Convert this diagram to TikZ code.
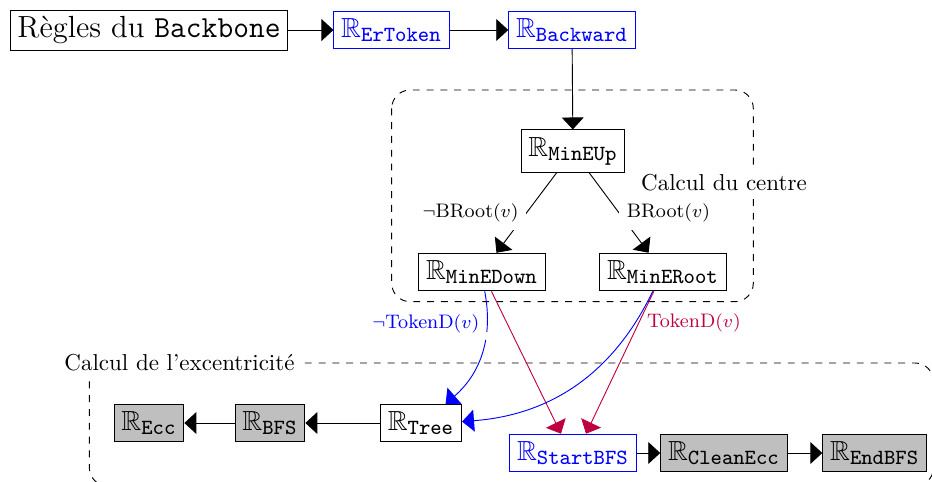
\documentclass[tikz,border=0pt]{standalone}
\usepackage{amssymb}
\usetikzlibrary{arrows.meta}
\newcommand{\RRsub}[1]{$\mathbb{R}_{\mbox{\fontsize{9.4}{11}\selectfont\ttfamily #1}}$}
\definecolor{crim}{rgb}{0.75,0,0.25}
\newdimen\px \px=0.4348pt
\begin{document}
\begin{tikzpicture}[x=0.4348pt,y=-0.4348pt,
  box/.style={draw, inner xsep=3.2pt, inner ysep=3.1pt, font=\fontsize{12}{14}\selectfont},
  bluebox/.style={box, draw=blue, text=blue},
  graybox/.style={box, fill=gray!50},
  arr/.style={-{Triangle[length=5.2pt,width=9.5pt]}},
  lab/.style={font=\fontsize{8.5}{10}\selectfont},
  grp/.style={draw, dashed, rounded corners=8pt},
  grplabel/.style={fill=white, font=\fontsize{10}{12}\selectfont}
]
\useasboundingbox (0,0) rectangle (932,482);
% groups
\draw[grp] (391.7,90) rectangle (753.3,301.7);
\draw[grp] (89.3,363) rectangle (933.5,486);
\node[grplabel] (gc) at (724,183) {Calcul du centre};
\node[grplabel] (ge) at (179.5,363) {Calcul de l’excentricité};
% nodes
\node[draw, inner xsep=3.2pt, inner ysep=2.7pt, font=\fontsize{13.3}{16}\selectfont] (reg) at (149,30) {Règles du \texttt{Backbone}};
\node[bluebox] (ertok) at (391.5,30) {\RRsub{ErToken}};
\node[bluebox] (backw) at (572,30) {\RRsub{Backward}};
\node[box] (mineup) at (573,151) {\RRsub{MinEUp}};
\node[box] (mindown) at (482,272) {\RRsub{MinEDown}};
\node[box] (minroot) at (663,272) {\RRsub{MinERoot}};
\node[graybox] (ecc) at (149,423) {\RRsub{Ecc}};
\node[graybox] (bfs) at (270,423) {\RRsub{BFS}};
\node[box] (tree) at (421,423) {\RRsub{Tree}};
\node[bluebox] (start) at (573,453) {\RRsub{StartBFS}};
\node[graybox] (clean) at (724,453) {\RRsub{CleanEcc}};
\node[graybox] (endbfs) at (874.7,453) {\RRsub{EndBFS}};
% edges
\draw[arr] (reg) -- (ertok);
\draw[arr] (ertok) -- (backw);
\draw[arr] (backw) -- (mineup);
\draw[arr] (mineup) -- node[lab, left, fill=white] {$\neg$BRoot$(v)$} (mindown);
\draw[arr] (mineup) -- node[lab, right, fill=white] {BRoot$(v)$} (minroot);
\draw[arr] (tree) -- (bfs);
\draw[arr] (bfs) -- (ecc);
\draw[arr] (start) -- (clean);
\draw[arr] (clean) -- (endbfs);
\draw[arr, crim] (mindown) -- ([xshift=-12\px]start.north);
\draw[arr, crim] (minroot) -- node[lab, pos=0.22, right] {TokenD$(v)$} ([xshift=13\px]start.north);
\draw[arr, blue, dash pattern=on 17.8pt off 3.5pt on 1000pt] (mindown) to[bend left=30] node[lab, pos=0.25, left] {$\neg$TokenD$(v)$} (tree);
\draw[arr, blue] (minroot) to[bend left=30] (tree);
\end{tikzpicture}
\end{document}
